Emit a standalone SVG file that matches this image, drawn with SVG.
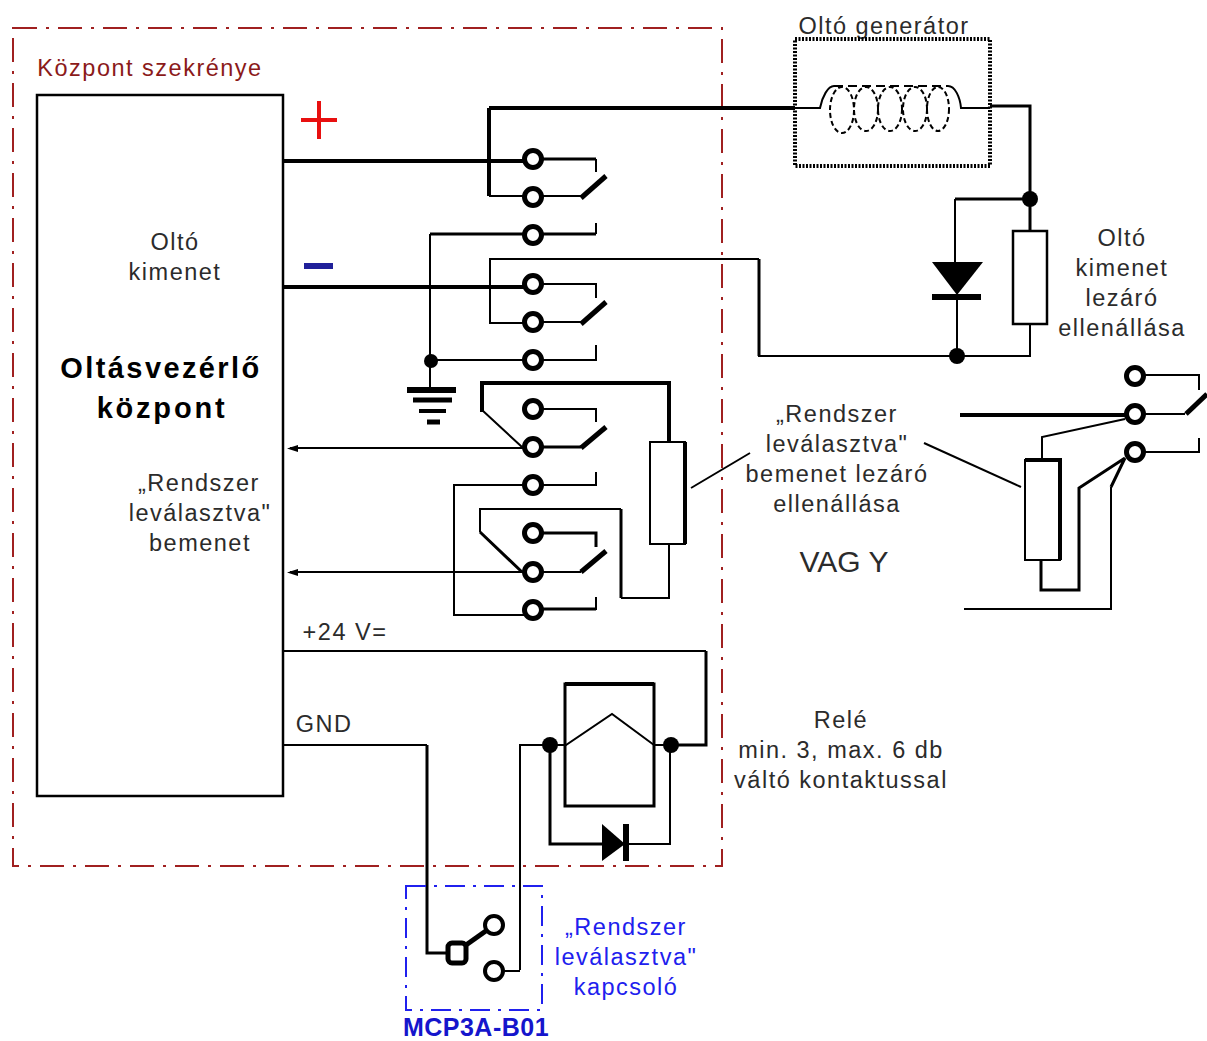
<svg xmlns="http://www.w3.org/2000/svg" width="1207" height="1041" viewBox="0 0 1207 1041">
<style>
text{font-family:"Liberation Sans",Arial,sans-serif;font-size:23.5px;fill:#2b2b2b;text-anchor:middle;letter-spacing:1.5px}
text.blue{fill:#2020ee}
.w{fill:none;stroke:#000;stroke-width:2}
.t{fill:none;stroke:#000;stroke-width:4}
.m{fill:none;stroke:#000;stroke-width:3}
.c{fill:#fff;stroke:#000;stroke-width:5}
.d{fill:#000}
.sw{stroke:#000;stroke-width:5}
.b{font-weight:bold;font-size:29px;fill:#000}
</style>
<defs>
<g id="term"><circle r="8.5" class="c"/></g>
</defs>
<g id="frame-kozpont"><rect x="13" y="28" width="709" height="838" fill="none" stroke="#a02020" stroke-width="2" stroke-dasharray="24 9 3 9"/>
<text x="150" y="76" style="fill:#8b1a1a">Központ szekrénye</text></g>
<g id="connectors">
<path class="t" d="M283 161H533M489 108H795M489 108V196"/>
<path class="w" d="M489 196H533M533 196H581M596 159V172M596 223V234"/>
<path class="m" d="M533 159H596M596 234H430"/>
<path class="w" d="M430 234V388"/>
<path class="t" d="M283 287H533"/>
<path class="w" d="M759 259H490V323H533M533 284H596V298M533 322H581M596 345V360H431"/>
<path class="m" d="M990 106H1030V231M955 199H1030"/>
<path class="w" d="M955 199V262M957 296V356M1030 324V356H759V259"/>
<path class="m" d="M759 259V356"/>
<path class="t" d="M482 412V383H669V442"/>
<path class="w" d="M482 410L522 447M533 409H596V422M533 485H596V472M533 485H454V615H533M533 448H290"/>
<path class="m" d="M533 447H581"/>
<path class="w" d="M480 532V509H621M533 572H290M533 572H581M669 544V598H621M596 610V597"/>
<path class="m" d="M621 509V598M480 532L522 572M533 533H596V547M533 609H596"/>
<path class="w" d="M691 488L750 453"/>
<path class="w" d="M924 443L1021 487"/>
<path class="t" d="M960 415H1135"/>
<path class="w" d="M1135 375H1199V390M1135 414H1185M1135 452H1199V438M1042 460V437L1125 419"/>
<path class="m" d="M1041 560V590H1079V488L1125 458M1111 487L1125 458"/>
<path class="w" d="M964 609H1111V487"/>
<path class="w" d="M283 651H706"/>
<path class="m" d="M706 651V745H670"/>
<path class="w" d="M283 745H427M520 970V745H550M670 745H654M550 745H566L612 714L654 745"/>
<path class="m" d="M427 745V953H456"/>
<path class="w" d="M495 971H520M670 745V844H620"/>
<path class="m" d="M550 745V844H602"/>
</g>
<g id="kozpont"><rect x="37" y="95" width="246" height="701" fill="#fff" stroke="#000" stroke-width="2.5"/>
<text x="175" y="250">Oltó</text><text x="175" y="280">kimenet</text>
<text x="161" y="378" class="b" style="letter-spacing:2.4px">Oltásvezérlő</text>
<text x="162" y="418" class="b" style="letter-spacing:2.8px">központ</text>
<text x="199" y="491">„Rendszer</text><text x="200" y="521">leválasztva"</text><text x="200" y="551">bemenet</text>
<text x="345" y="640">+24 V=</text>
<text x="324" y="732">GND</text></g>
<g id="arrows"><path d="M287 448.500l11-3.500v7zM287 572.500l11-3.500v7z" fill="#000"/></g>
<g id="polarity"><path d="M319 101V139M301 120H337" stroke="#e81010" stroke-width="4" fill="none"/>
<rect x="304" y="263" width="29" height="6" fill="#20209a"/></g>
<g id="rele-a">
<use href="#term" x="533" y="159"/><use href="#term" x="533" y="197"/><use href="#term" x="533" y="235"/>
<path d="M581 198L606 176" class="sw"/></g>
<g id="rele-b">
<use href="#term" x="533" y="284"/><use href="#term" x="533" y="322"/><use href="#term" x="533" y="360"/>
<path d="M581 324L606 302" class="sw"/></g>
<g id="rele-c">
<use href="#term" x="533" y="409"/><use href="#term" x="533" y="447"/><use href="#term" x="533" y="485"/>
<path d="M581 448L606 427" class="sw"/></g>
<g id="rele-d">
<use href="#term" x="533" y="533"/><use href="#term" x="533" y="572"/><use href="#term" x="533" y="610"/>
<path d="M581 572L606 551" class="sw"/></g>
<g id="fold"><circle cx="431" cy="361" r="7" class="d"/>
<path d="M407 390H456" stroke="#000" stroke-width="6"/><path d="M413 400H452" stroke="#000" stroke-width="5"/><path d="M419 411H446" stroke="#000" stroke-width="4"/><path d="M427 422H440" stroke="#000" stroke-width="5"/></g>
<g id="generator">
<text x="884" y="34">Oltó generátor</text>
<rect x="795" y="39" width="195" height="127" fill="none" stroke="#000" stroke-width="4" stroke-dasharray="2 1.5"/>
<path class="w" d="M795 108H820C822 97 828 86 834 86M948 86C955 86 960 97 961 108H990"/>
<path class="w" stroke-dasharray="9 5" d="M834 86H948"/>
<g fill="none" stroke="#000" stroke-width="2" stroke-dasharray="5 3"><ellipse cx="842" cy="110" rx="12" ry="23"/><ellipse cx="866" cy="109" rx="12" ry="22"/><ellipse cx="890" cy="109" rx="12" ry="22"/><ellipse cx="915" cy="109" rx="12" ry="22"/><ellipse cx="938" cy="109" rx="11" ry="22"/></g>
</g>
<g id="dioda-1"><path d="M932 262H983L957 295z" class="d"/><rect x="932" y="294" width="49" height="6" class="d"/>
<circle cx="1030" cy="199" r="8" class="d"/><circle cx="957" cy="356" r="8" class="d"/></g>
<g id="ellenallas-1"><rect x="1013" y="231" width="34" height="93" fill="#fff" stroke="#000" stroke-width="2.500"/>
<text x="1122" y="246">Oltó</text><text x="1122" y="276">kimenet</text><text x="1122" y="306">lezáró</text><text x="1122" y="336">ellenállása</text></g>
<g id="ellenallas-2"><rect x="650" y="442" width="35" height="102" fill="#fff" stroke="#000" stroke-width="2"/><path d="M685 442V544" stroke="#000" stroke-width="4"/>
<text x="837" y="422">„Rendszer</text><text x="837" y="452">leválasztva"</text><text x="837" y="482">bemenet lezáró</text><text x="837" y="512">ellenállása</text>
<text x="844" y="572" style="font-size:30px;letter-spacing:0">VAG Y</text></g>
<g id="alternativ"><rect x="1025" y="460" width="35" height="100" fill="#fff" stroke="#000" stroke-width="2"/><path d="M1025 460H1060V560" fill="none" stroke="#000" stroke-width="4"/>
<use href="#term" x="1135" y="376"/><use href="#term" x="1135" y="414"/><use href="#term" x="1135" y="452"/>
<path d="M1186 414L1207 394" class="sw"/></g>
<g id="rele"><rect x="565" y="684" width="89" height="122" fill="none" stroke="#000" stroke-width="3"/><path d="M565 684H654" stroke="#000" stroke-width="4"/>
<circle cx="550" cy="745" r="8" class="d"/><circle cx="671" cy="745" r="8" class="d"/>
<path d="M602 824L625 844L602 861z" class="d"/><rect x="623" y="824" width="6" height="37" class="d"/>
<text x="841" y="728">Relé</text><text x="841" y="758">min. 3, max. 6 db</text><text x="841" y="788">váltó kontaktussal</text></g>
<g id="kapcsolo">
<rect x="406" y="886" width="136" height="124" fill="none" stroke="#2020ee" stroke-width="2" stroke-dasharray="20 8 3 8"/>
<rect x="448" y="943" width="18" height="20" rx="4" fill="#fff" stroke="#000" stroke-width="5"/>
<path d="M466 945L490 928" class="sw"/>
<circle cx="494" cy="925" r="9" fill="#fff" stroke="#000" stroke-width="4"/><circle cx="494" cy="971" r="9" fill="#fff" stroke="#000" stroke-width="4"/>
<text x="626" y="935" class="blue">„Rendszer</text><text x="626" y="965" class="blue">leválasztva"</text><text x="626" y="995" class="blue">kapcsoló</text>
<text x="476" y="1035.500" style="font-weight:bold;font-size:25px;fill:#1515cc;letter-spacing:.5px">MCP3A-B01</text></g>
</svg>
